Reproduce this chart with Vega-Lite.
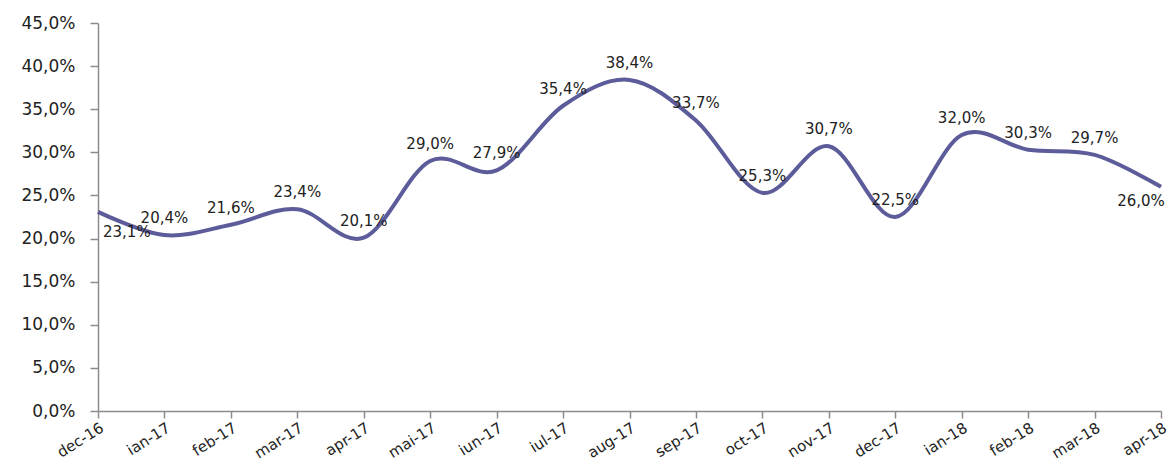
{
  "$schema": "https://vega.github.io/schema/vega-lite/v6.json",
  "width": 1063,
  "height": 388,
  "autosize": {"type": "none"},
  "padding": {"left": 98, "top": 23, "right": 12, "bottom": 53},
  "background": "white",
  "config": {
    "view": {"stroke": null},
    "font": "DejaVu Sans",
    "locale": {"number": {"decimal": ",", "thousands": ".", "grouping": [3], "currency": ["", " €"]}},
    "axis": {"grid": false, "domainColor": "#8c8c8c", "tickColor": "#8c8c8c", "domainWidth": 1.5, "tickWidth": 1.5, "labelColor": "#222222", "labelFontSize": 17, "labelFont": "DejaVu Sans"}
  },
  "data": {
    "values": [
      {"month": "dec-16", "value": 0.231},
      {"month": "ian-17", "value": 0.204},
      {"month": "feb-17", "value": 0.216},
      {"month": "mar-17", "value": 0.234},
      {"month": "apr-17", "value": 0.201},
      {"month": "mai-17", "value": 0.290},
      {"month": "iun-17", "value": 0.279},
      {"month": "iul-17", "value": 0.354},
      {"month": "aug-17", "value": 0.384},
      {"month": "sep-17", "value": 0.337},
      {"month": "oct-17", "value": 0.253},
      {"month": "nov-17", "value": 0.307},
      {"month": "dec-17", "value": 0.225},
      {"month": "ian-18", "value": 0.320},
      {"month": "feb-18", "value": 0.303},
      {"month": "mar-18", "value": 0.297},
      {"month": "apr-18", "value": 0.260}
    ]
  },
  "encoding": {
    "x": {
      "field": "month", "type": "ordinal", "sort": null,
      "scale": {"type": "point", "padding": 0},
      "axis": {"title": null, "labelAngle": -32, "labelAlign": "right", "labelBaseline": "top", "tickSize": 7, "labelPadding": 2, "labelFontSize": 15}
    },
    "y": {
      "field": "value", "type": "quantitative",
      "scale": {"domain": [0, 0.45], "nice": false},
      "axis": {"title": null, "values": [0, 0.05, 0.1, 0.15, 0.2, 0.25, 0.3, 0.35, 0.4, 0.45], "format": ".1%", "tickSize": 8, "labelPadding": 15}
    }
  },
  "layer": [
    {
      "mark": {"type": "line", "interpolate": "cardinal", "color": "#5c5c9a", "strokeWidth": 4}
    },
    {
      "transform": [{"filter": "datum.month != 'dec-16' && datum.month != 'apr-18'"}],
      "mark": {"type": "text", "dy": -17, "fontSize": 15, "color": "#222222"},
      "encoding": {"text": {"field": "value", "type": "quantitative", "format": ".1%"}}
    },
    {
      "transform": [{"filter": "datum.month == 'dec-16'"}],
      "mark": {"type": "text", "dx": 5, "dy": 20, "align": "left", "fontSize": 15, "color": "#222222"},
      "encoding": {"text": {"field": "value", "type": "quantitative", "format": ".1%"}}
    },
    {
      "transform": [{"filter": "datum.month == 'apr-18'"}],
      "mark": {"type": "text", "dx": -20, "dy": 14, "fontSize": 15, "color": "#222222"},
      "encoding": {"text": {"field": "value", "type": "quantitative", "format": ".1%"}}
    }
  ]
}
